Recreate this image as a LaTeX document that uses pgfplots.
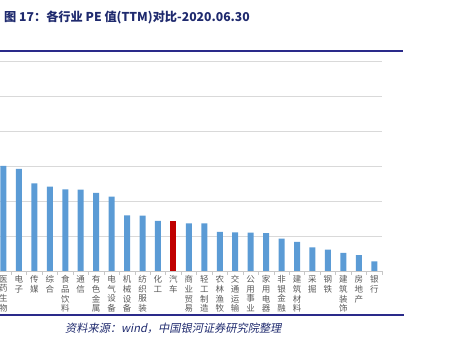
\documentclass[border=0pt]{standalone}
\usepackage{pgfplots}
\pgfplotsset{compat=1.18}
\usepackage{fontspec}
\newfontfamily\cjk{Noto Sans CJK SC}
\newfontfamily\cjkit[FakeSlant=0.2]{Noto Sans CJK SC}
\definecolor{navy}{HTML}{1F2A6E}
\definecolor{linenavy}{HTML}{2A2A8A}
\definecolor{barblue}{HTML}{5B9BD5}
\definecolor{barred}{HTML}{C00000}
\definecolor{gridgray}{HTML}{D9D9D9}
\definecolor{labgray}{HTML}{595959}
\begin{document}
\begin{tikzpicture}[x=1pt,y=1pt]
\useasboundingbox (0pt,0pt) rectangle (474pt,342pt);
\clip (0pt,0pt) rectangle (474pt,342pt);
\node[anchor=west, text=navy, font=\cjk\bfseries\fontsize{12.2}{14}\selectfont, inner sep=0] at (4pt,324.3pt) {图 17：各行业 PE 值(TTM)对比-2020.06.30};
\draw[linenavy, line width=1.5pt] (0pt,291pt) -- (403pt,291pt);
\draw[linenavy, line width=1.2pt] (0pt,27pt) -- (404pt,27pt);
\node[anchor=west, text=navy, font=\cjkit\fontsize{11.2}{13}\selectfont, inner sep=0] at (65pt,14pt) {资料来源：wind，中国银河证券研究院整理};
\begin{axis}[
  at={(3.5pt,71pt)}, anchor=origin, scale only axis,
  width=382pt, height=210pt,
  xmin=-0.2265, xmax=24.5, ymin=0, ymax=120,
  ytick={0,20,...,120}, yticklabels={},
  ymajorgrids, grid style={gridgray, line width=0.8pt},
  separate axis lines,
  axis x line*=bottom, axis y line*=left,
  y axis line style={draw=none},
  x axis line style={gridgray!80!gray, line width=0.8pt, -},
  ytick style={draw=none},
  xtick={0,...,24},
  xticklabels={{医\\药\\生\\物},{电\\子},{传\\媒},{综\\合},{食\\品\\饮\\料},{通\\信},{有\\色\\金\\属},{电\\气\\设\\备},{机\\械\\设\\备},{纺\\织\\服\\装},{化\\工},{汽\\车},{商\\业\\贸\\易},{轻\\工\\制\\造},{农\\林\\渔\\牧},{交\\通\\运\\输},{公\\用\\事\\业},{家\\用\\电\\器},{非\\银\\金\\融},{建\\筑\\材\\料},{采\\掘},{钢\\铁},{建\\筑\\装\\饰},{房\\地\\产},{银\\行}},
  xticklabel style={align=center, font=\cjk\fontsize{8.5}{9.7}\selectfont, text=labgray, anchor=north, inner sep=1pt, yshift=1pt},
  major x tick style={draw=none},
  minor xtick={-0.5,0.5,...,24.5},
  minor x tick style={gridgray!80!gray, line width=0.6pt},
  minor tick length=4pt,
  tick align=outside,
  ybar, bar width=6pt,
]
\addplot[fill=barblue, draw=none, bar shift=0pt] coordinates {
(0,60) (1,58.3) (2,50.1) (3,48.2) (4,46.7) (5,46.5) (6,44.7) (7,42.5)
(8,31.8) (9,31.6) (10,28.6) (12,27.2) (13,27.2) (14,22.3) (15,22.1)
(16,21.9) (17,21.7) (18,18.5) (19,16.7) (20,13.5) (21,12.2) (22,10.3)
(23,9.1) (24,5.5)};
\addplot[fill=barred, draw=none, bar shift=0pt] coordinates {(11,28.6)};
\end{axis}
\end{tikzpicture}
\end{document}
